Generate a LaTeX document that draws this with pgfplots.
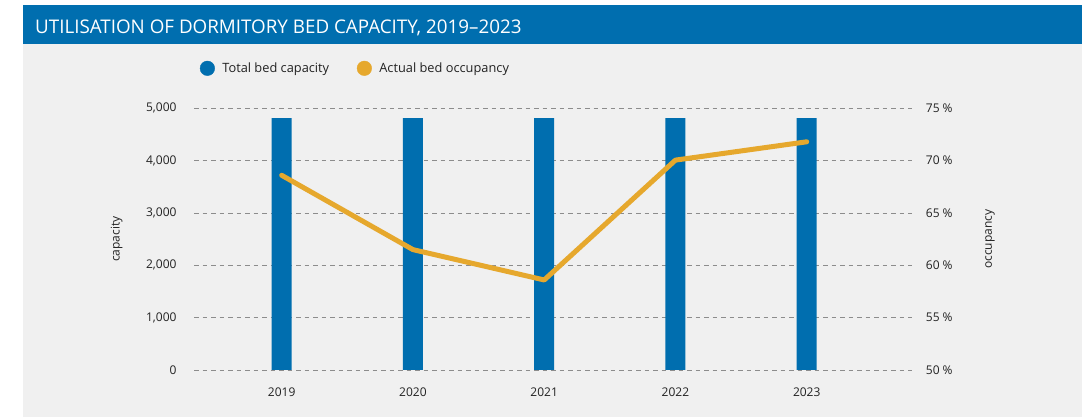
\documentclass[border=0pt]{standalone}
\usepackage{fontspec}
\setmainfont{Open Sans}
\usepackage{pgfplots}
\pgfplotsset{compat=1.18}
\definecolor{barblue}{HTML}{006EAF}
\definecolor{lineorange}{HTML}{E6A82D}
\definecolor{panel}{HTML}{F0F0F0}
\definecolor{gridgray}{HTML}{8C8C8C}
\definecolor{txt}{HTML}{222222}

\pgfplotsset{
  base/.style={
    at={(194pt,47pt)}, anchor=south west,
    scale only axis, width=718pt, height=261.7pt,
    xmin=2018.332, xmax=2023.802, enlargelimits=false,
    axis line style={draw=none}, major tick length=0pt,
    /pgf/number format/assume math mode=true,
    tick label style={font=\fontsize{12}{14}\selectfont, text=txt},
  }
}

\begin{document}
\begin{tikzpicture}[x=1pt,y=1pt]
\path[use as bounding box] (0,0) rectangle (1087,417);
\fill[white] (0,0) rectangle (1087,417);
\fill[panel] (23.3,0) rectangle (1081.7,373);
\fill[barblue] (23.3,373) rectangle (1081.7,412);
\node[anchor=base west, inner sep=0pt, text=white, font=\fontsize{18.8}{22}\selectfont]
  at (35,383.7) {UTILISATION OF DORMITORY BED CAPACITY, 2019–2023};

% capacity (bars)
\begin{axis}[base,
  ymin=0, ymax=5000, ytick={0,1000,...,5000}, scaled y ticks=false,
  yticklabel={\pgfmathprintnumber[1000 sep={,}]{\tick}},
  yticklabel style={anchor=east, inner sep=0pt, xshift=-17.3pt},
  xtick={2019,2020,2021,2022,2023},
  xticklabels={2019,2020,2021,2022,2023},
  xticklabel style={anchor=north, inner sep=0pt, yshift=-17.7pt},
  ymajorgrids,
  grid style={gridgray, dash pattern=on 4.5pt off 4pt, line width=0.9pt},
  ylabel={capacity},
  every axis y label/.style={at={(axis description cs:-0.1077,0.5)}, rotate=90,
    anchor=center, font=\fontsize{12}{14}\selectfont, text=txt},
  legend columns=2,
  legend style={at={(axis description cs:0.00376,1.1528)}, anchor=west,
    draw=none, fill=none, font=\fontsize{12.8}{15}\selectfont, text=txt,
    column sep=7.5pt, nodes={inner sep=0pt, anchor=base west},
    /tikz/every even column/.append style={column sep=27.7pt}},
]
\addplot[ybar, bar width=20pt, fill=barblue, draw=none, forget plot] coordinates {
  (2019,4810) (2020,4810) (2021,4810) (2022,4810) (2023,4810)
};
\addlegendimage{legend image code/.code={\fill[barblue] (0pt,4.3pt) circle (7.3pt);}}
\addlegendentry{Total bed capacity}
\addlegendimage{legend image code/.code={\fill[lineorange] (0pt,4.3pt) circle (7.3pt);}}
\addlegendentry{Actual bed occupancy}
\end{axis}

% occupancy (line)
\begin{axis}[base,
  ymin=50, ymax=75, ytick={50,55,...,75},
  yticklabel pos=right,
  yticklabel={\pgfmathprintnumber{\tick} \%},
  yticklabel style={anchor=west, inner sep=0pt, xshift=13.7pt},
  xtick=\empty,
  ylabel={occupancy},
  every axis y label/.style={at={(axis description cs:1.1086,0.5)}, rotate=90,
    anchor=center, font=\fontsize{12}{14}\selectfont, text=txt},
  clip=false,
]
\addplot[lineorange, line width=5pt, line cap=round, line join=round] coordinates {
  (2019,68.6) (2020,61.5) (2021,58.6) (2022,70.05) (2023,71.8)
};
\end{axis}
\end{tikzpicture}
\end{document}
